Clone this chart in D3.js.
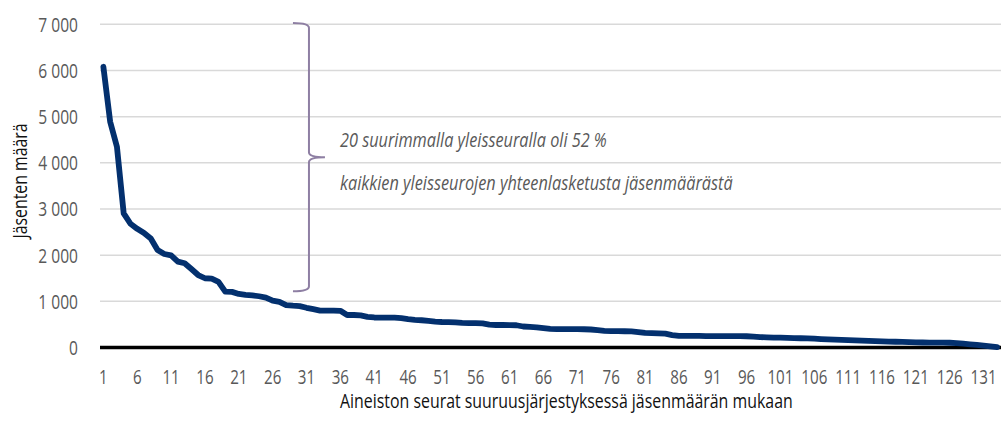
<!DOCTYPE html>
<html>
<head>
<meta charset="utf-8">
<script src="https://cdn.jsdelivr.net/npm/d3@7.9.0/dist/d3.min.js"></script>
<style>
  body { margin: 0; background: #fff; }
  svg { display: block; }
  text { font-family: "Open Sans", "Noto Sans", sans-serif; }
</style>
</head>
<body>
<svg id="chart"></svg>
<script>
// members per club, ranked by size
const members = [
  6080, 4890, 4350, 2905, 2680, 2570, 2480, 2360, 2110, 2025,
  1995, 1860, 1825, 1700, 1570, 1500, 1490, 1420, 1210, 1205,
  1160, 1140, 1130, 1110, 1080, 1015, 990, 920, 905, 895,
  860, 830, 800, 800, 800, 795, 704, 704, 695, 665,
  650, 648, 648, 645, 635, 615, 600, 590, 575, 560,
  552, 550, 545, 535, 530, 527, 522, 495, 487, 487,
  485, 482, 455, 445, 437, 420, 405, 400, 398, 398,
  397, 395, 390, 375, 362, 355, 353, 352, 348, 335,
  315, 310, 305, 300, 270, 252, 250, 250, 250, 248,
  248, 247, 247, 246, 245, 244, 235, 225, 220, 215,
  212, 210, 205, 200, 198, 190, 183, 178, 172, 165,
  160, 156, 150, 142, 136, 132, 128, 125, 120, 115,
  110, 108, 106, 105, 104, 103, 95, 82, 70, 58,
  42, 26, 8
];
const ranks = members.map((d, i) => i + 1);
const yTicks = [0, 1000, 2000, 3000, 4000, 5000, 6000, 7000];
const xTickRanks = ranks.filter((r) => (r - 1) % 5 === 0);

const yTitle = "Jäsenten määrä";
const xTitle = "Aineiston seurat suuruusjärjestyksessä jäsenmäärän mukaan";
const noteLines = [
  "20 suurimmalla yleisseuralla oli 52 %",
  "kaikkien yleisseurojen yhteenlasketusta jäsenmäärästä"
];
// brace spans the top 20 clubs' range of the axis
const braceRange = [7030, 1220];
const braceMid = 4120;
const braceRank = 29;

const W = 1001, H = 432;
const svg = d3.select("#chart").attr("width", W).attr("height", H);

const x = d3.scaleLinear().domain([0.5, ranks.length + 0.5]).range([100, 1000.5]);
const y = d3.scaleLinear().domain([0, 7000]).range([347.5, 24.3]);

const fmt = d3.formatLocale({ decimal: ",", thousands: "\u00a0", grouping: [3], currency: ["", "€"] }).format(",");

// the reference uses a condensed face: squeeze each text horizontally
// k is a factor, or a function returning the target width
function squeeze(sel, k, rot) {
  sel.each(function (d, i) {
    const t = d3.select(this);
    const px = +t.attr("x") || 0, py = +t.attr("y") || 0;
    const f = typeof k === "function" ? k(d, i) / this.getComputedTextLength() : k;
    t.attr("x", 0).attr("y", 0)
      .attr("transform", `translate(${px},${py})${rot ? " rotate(" + rot + ")" : ""} scale(${f},1)`);
  });
}

// gridlines
svg.append("g")
  .selectAll("line")
  .data(yTicks.filter((d) => d > 0))
  .join("line")
  .attr("x1", 100)
  .attr("x2", W)
  .attr("y1", (d) => y(d))
  .attr("y2", (d) => y(d))
  .attr("stroke", "#d9d9d9")
  .attr("stroke-width", 1.5);

// y tick labels
svg.append("g")
  .selectAll("text")
  .data(yTicks)
  .join("text")
  .attr("x", 78)
  .attr("y", (d) => y(d))
  .attr("dy", "0.36em")
  .attr("text-anchor", "end")
  .attr("fill", "#595959")
  .style("font-size", "20.5px")
  .text((d) => fmt(d))
  .call(squeeze, 0.76);

// x tick labels
svg.append("g")
  .selectAll("text")
  .data(xTickRanks)
  .join("text")
  .attr("x", (d) => x(d))
  .attr("y", 384)
  .attr("text-anchor", "middle")
  .attr("fill", "#595959")
  .style("font-size", "20.5px")
  .text((d) => d)
  .call(squeeze, 0.74);

// zero axis line
svg.append("line")
  .attr("x1", 100)
  .attr("x2", W)
  .attr("y1", y(0))
  .attr("y2", y(0))
  .attr("stroke", "#000")
  .attr("stroke-width", 3.3);

// the series
svg.append("path")
  .datum(members)
  .attr("fill", "none")
  .attr("stroke", "#03306e")
  .attr("stroke-width", 5.8)
  .attr("stroke-linejoin", "round")
  .attr("stroke-linecap", "round")
  .attr("d", d3.line().x((d, i) => x(i + 1)).y((d) => y(d)));

// brace
const bx = x(braceRank), r = 5;
const yTop = y(braceRange[0]), yBot = y(braceRange[1]), yMid = y(braceMid);
const p = d3.path();
p.moveTo(bx, yTop);
p.quadraticCurveTo(bx + 16, yTop, bx + 16, yTop + r);
p.lineTo(bx + 16, yMid - r);
p.quadraticCurveTo(bx + 16, yMid, bx + 32, yMid);
p.moveTo(bx + 32, yMid);
p.quadraticCurveTo(bx + 16, yMid, bx + 16, yMid + r);
p.lineTo(bx + 16, yBot - r);
p.quadraticCurveTo(bx + 16, yBot, bx, yBot);
svg.append("path")
  .attr("d", p.toString())
  .attr("fill", "none")
  .attr("stroke", "#8e7fa3")
  .attr("stroke-width", 2);

// note
const noteWidths = [267, 393];
svg.append("g")
  .selectAll("text")
  .data(noteLines)
  .join("text")
  .attr("x", 340)
  .attr("y", (d, i) => 147 + i * 43)
  .attr("fill", "#595959")
  .style("font-size", "20px")
  .style("font-style", "italic")
  .text((d) => d)
  .call(squeeze, (d, i) => noteWidths[i]);

// axis titles
svg.append("text")
  .attr("x", 27)
  .attr("y", 181)
  .attr("text-anchor", "middle")
  .attr("fill", "#111")
  .style("font-size", "19.5px")
  .text(yTitle)
  .call(squeeze, () => 115, -90);

svg.append("text")
  .attr("x", 340)
  .attr("y", 408)
  .attr("fill", "#111")
  .style("font-size", "19.5px")
  .text(xTitle)
  .call(squeeze, () => 453);
</script>
</body>
</html>
